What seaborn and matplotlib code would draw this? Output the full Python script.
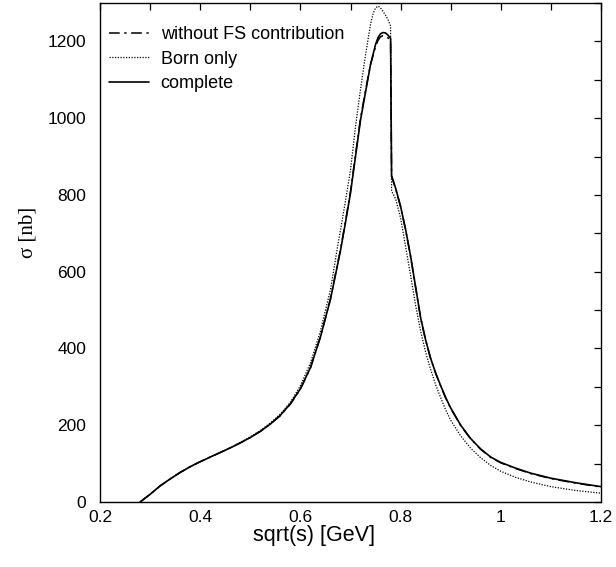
import numpy as np
import pandas as pd
import matplotlib
matplotlib.use("Agg")
import matplotlib.pyplot as plt
from matplotlib.ticker import MultipleLocator
import seaborn as sns

# ---- data ----
x_complete = [0.28, 0.29, 0.30, 0.31, 0.32, 0.33, 0.34, 0.36, 0.38, 0.40, 0.42, 0.44,
              0.46, 0.48, 0.50, 0.52, 0.54, 0.56, 0.58, 0.60, 0.62, 0.64, 0.66, 0.68,
              0.69, 0.70, 0.71, 0.72, 0.73, 0.74, 0.75, 0.755, 0.76, 0.765, 0.77,
              0.775, 0.78, 0.782, 0.79, 0.80, 0.81, 0.82, 0.83, 0.84, 0.85, 0.86,
              0.87, 0.88, 0.89, 0.90, 0.92, 0.94, 0.96, 0.98, 1.00, 1.03, 1.06,
              1.10, 1.15, 1.20]
y_complete = [0, 10, 20, 31, 42, 51, 60, 77, 92, 105, 117, 129,
              141, 154, 168, 184, 203, 226, 256, 295, 350, 430, 528, 655,
              728, 805, 900, 995, 1068, 1140, 1192, 1210, 1220, 1223, 1222,
              1216, 1208, 850, 818, 770, 710, 640, 560, 480, 422, 374,
              336, 303, 272, 245, 200, 165, 138, 117, 103, 88, 75,
              62, 50, 40]

x_nofs = list(x_complete)
y_nofs = [0, 10, 20, 31, 42, 51, 60, 77, 92, 105, 117, 129,
          141, 154, 168, 184, 203, 225, 255, 294, 349, 430, 530, 658,
          732, 809, 905, 1000, 1072, 1140, 1186, 1203, 1212, 1215, 1214,
          1209, 1202, 848, 816, 769, 709, 639, 559, 479, 421, 373,
          335, 302, 271, 244, 199, 164, 137, 116, 102, 87, 74,
          61, 49, 39]

x_born = [0.28, 0.29, 0.30, 0.31, 0.32, 0.33, 0.34, 0.36, 0.38, 0.40, 0.42, 0.44,
          0.46, 0.48, 0.50, 0.52, 0.54, 0.56, 0.58, 0.60, 0.62, 0.64, 0.66, 0.675,
          0.68, 0.69, 0.70, 0.71, 0.72, 0.73, 0.74, 0.745, 0.75, 0.755, 0.76,
          0.765, 0.77, 0.775, 0.78, 0.782, 0.79, 0.80, 0.81, 0.82, 0.83, 0.84,
          0.85, 0.86, 0.87, 0.88, 0.89, 0.90, 0.92, 0.94, 0.96, 0.98, 1.00,
          1.03, 1.06, 1.10, 1.15, 1.20]
y_born = [0, 10, 20, 31, 42, 51, 60, 77, 92, 105, 117, 129,
          141, 155, 170, 186, 206, 229, 260, 303, 362, 445, 553, 672,
          708, 785, 865, 978, 1075, 1165, 1245, 1272, 1287, 1292, 1287,
          1278, 1268, 1256, 1240, 810, 790, 740, 665, 590, 512, 445,
          390, 345, 305, 272, 240, 213, 172, 140, 115, 95, 80,
          64, 52, 40, 30, 23]

labels = ["without FS contribution", "Born only", "complete"]

x_ticks = [0.2, 0.4, 0.6, 0.8, 1.0, 1.2]
x_ticklabels = ["0.2", "0.4", "0.6", "0.8", "1", "1.2"]
y_ticks = [0, 200, 400, 600, 800, 1000, 1200]

# ---- plot ----
sns.set_style("white")
plt.rcParams["font.family"] = ["Liberation Sans", "DejaVu Sans"]
plt.rcParams["text.color"] = "black"
plt.rcParams["axes.labelcolor"] = "black"
plt.rcParams["xtick.color"] = "black"
plt.rcParams["ytick.color"] = "black"

fig = plt.figure(figsize=(6.16, 5.67), dpi=100)
ax = fig.add_axes([100 / 616, 1 - 502 / 567, 501 / 616, 499 / 567])

sns.lineplot(x=x_nofs, y=y_nofs, ax=ax, color="black", lw=1.1,
             label=labels[0], sort=False)
sns.lineplot(x=x_born, y=y_born, ax=ax, color="black", lw=0.9,
             label=labels[1], sort=False)
sns.lineplot(x=x_complete, y=y_complete, ax=ax, color="black", lw=1.2,
             label=labels[2], sort=False)

lines = ax.get_lines()
lines[0].set_dashes([7, 3, 1.5, 3])
lines[1].set_dashes([1, 1.2])

ax.set_xlim(0.2, 1.2)
ax.set_ylim(0, 1300)
ax.set_xticks(x_ticks)
ax.set_xticklabels(x_ticklabels)
ax.set_yticks(y_ticks)
ax.xaxis.set_minor_locator(MultipleLocator(0.1))
ax.yaxis.set_minor_locator(MultipleLocator(100))
ax.tick_params(which="both", direction="in", top=True, right=True,
               length=5, width=0.9, color="black", labelsize=12.5,
               labelcolor="black")
ax.tick_params(axis="x", which="major", pad=6)
ax.tick_params(axis="y", which="major", pad=10)

for s in ax.spines.values():
    s.set_color("black")
    s.set_linewidth(1.0)

ax.set_xlabel("sqrt(s) [GeV]", fontsize=15.5, color="black")
ax.set_ylabel("σ [nb]", fontsize=15, family=["Liberation Serif", "DejaVu Serif"],
              color="black")
ax.xaxis.set_label_coords((314 - 100) / 501, (502 - 525) / 499)
ax.yaxis.set_label_coords((38 - 100) / 501, (502 - 232) / 499)

leg = ax.legend(loc="upper left", bbox_to_anchor=(0.004, 0.968), frameon=False,
                fontsize=13, handlelength=2.2, handletextpad=0.65,
                labelspacing=0.42, borderaxespad=0)
for t in leg.get_texts():
    t.set_color("black")

fig.savefig("out.png", dpi=100)
